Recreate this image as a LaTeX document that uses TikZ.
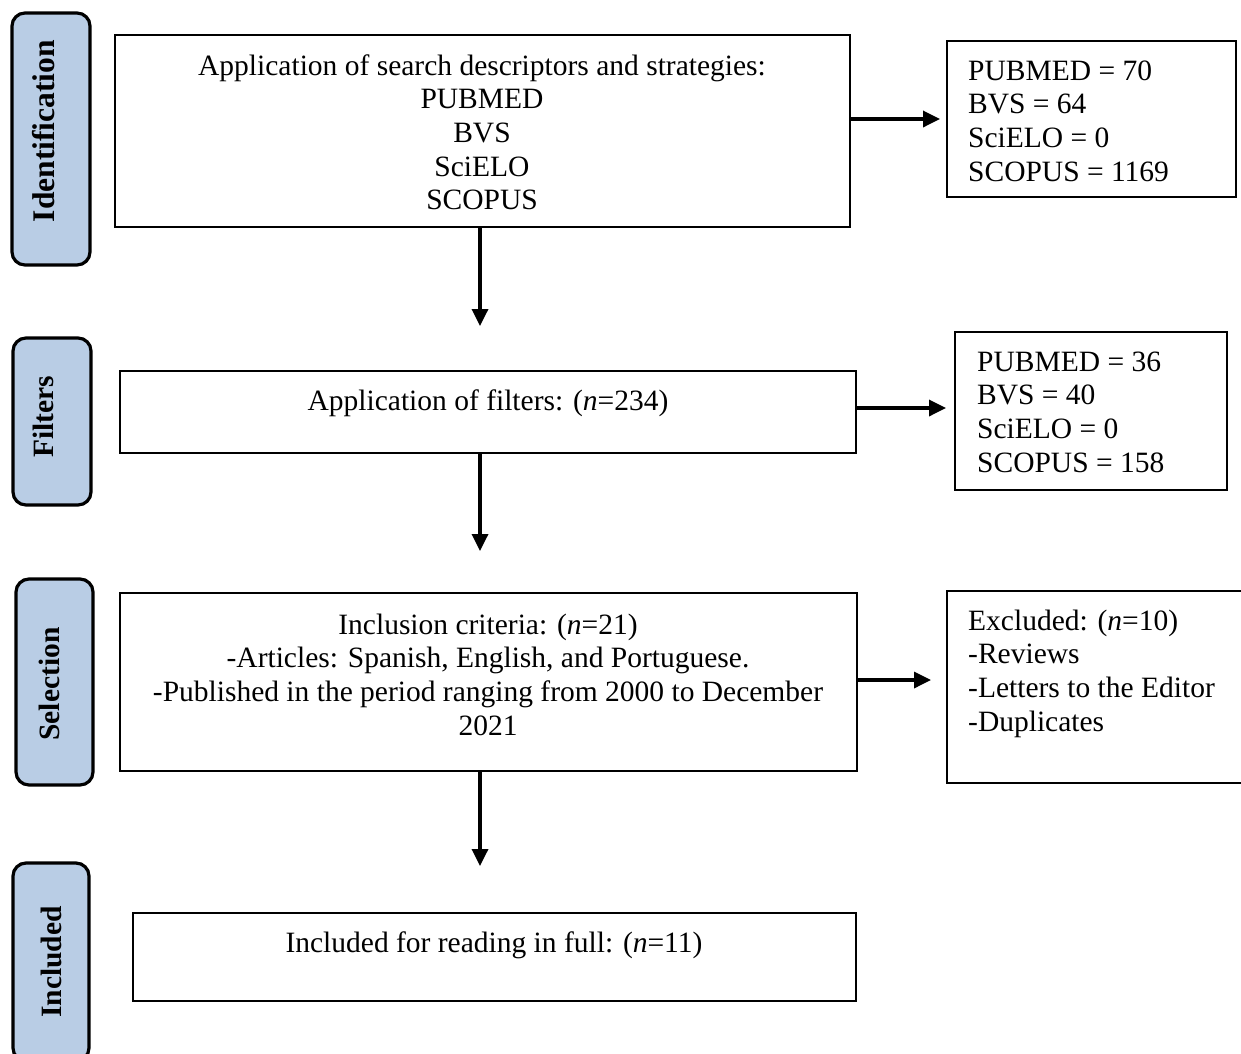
\documentclass[tikz,border=0pt]{standalone}
\usepackage{fontspec}
\setmainfont{Liberation Serif}
\usetikzlibrary{arrows.meta}
\definecolor{lblue}{HTML}{B9CDE5}
\begin{document}
\begin{tikzpicture}[x=1pt,y=-1pt,
  box/.style={draw, line width=2.6pt, inner sep=0pt},
  stage/.style={draw, line width=3.2pt, rounded corners=13pt, fill=lblue, inner sep=0pt},
  stagetext/.style={rotate=90, font=\fontsize{29.5}{33.6}\selectfont\bfseries, inner sep=0pt},
  txt/.style={inner sep=0pt, font=\fontsize{29.5}{33.6}\selectfont},
  arr/.style={line width=3.4pt, -{Triangle[length=17pt,width=16pt]}}
]
\useasboundingbox (0,0) rectangle (1241,1053);
\clip (0,0) rectangle (1241,1053);

% stage labels
\node[stage, minimum width=78pt, minimum height=252pt] (sid) at (51,139) {};
\node[stagetext, font=\fontsize{31.5}{33.6}\selectfont\bfseries] (tid) at (44,131) {Identification};
\node[stage, minimum width=78pt, minimum height=167pt] (sfi) at (52,421.5) {};
\node[stagetext] (tfi) at (43,417) {Filters};
\node[stage, minimum width=77pt, minimum height=206pt] (sse) at (54.5,682) {};
\node[stagetext] (tse) at (49,684) {Selection};
\node[stage, minimum width=76pt, minimum height=198pt] (sin) at (51,962) {};
\node[stagetext] (tin) at (51,962) {Included};

% main boxes
\node[box, minimum width=735pt, minimum height=192pt] (b1) at (482.5,131) {};
\node[box, minimum width=736pt, minimum height=82pt] (b2) at (488,412) {};
\node[box, minimum width=737pt, minimum height=178pt] (b3) at (488.5,682) {};
\node[box, minimum width=723pt, minimum height=88pt] (b4) at (494.5,957) {};

% right boxes
\node[box, minimum width=289pt, minimum height=156pt] (r1) at (1091.5,119) {};
\node[box, minimum width=272pt, minimum height=158pt] (r2) at (1091,411) {};
\node[box, minimum width=313pt, minimum height=192pt] (r3) at (1103.5,687) {};

% texts
\node[txt, align=center, anchor=north] (x1) at (482,51.5) {\strut Application of search descriptors and strategies:\\PUBMED\\BVS\\SciELO\\SCOPUS};
\node[txt, align=center, anchor=north] (x2) at (488,386.5) {\strut Application of filters: (\textit{n}=234)};
\node[txt, align=center, anchor=north] (x3) at (488,610.5) {\strut Inclusion criteria: (\textit{n}=21)\\-Articles: Spanish, English, and Portuguese.\\-Published in the period ranging from 2000 to December\\2021};
\node[txt, align=center, anchor=north] (x4) at (494,928.5) {\strut Included for reading in full: (\textit{n}=11)};
\node[txt, align=left, anchor=north west] (y1) at (968,56.5) {\strut PUBMED = 70\\BVS = 64\\SciELO = 0\\SCOPUS = 1169};
\node[txt, align=left, anchor=north west] (y2) at (977,347.5) {\strut PUBMED = 36\\BVS = 40\\SciELO = 0\\SCOPUS = 158};
\node[txt, align=left, anchor=north west] (y3) at (968,606.5) {\strut Excluded: (\textit{n}=10)\\-Reviews\\-Letters to the Editor\\-Duplicates};

% arrow end points
\coordinate (t1) at (940,119);
\coordinate (t2) at (946,408);
\coordinate (t3) at (931,680);
\coordinate (d1) at (480,326);
\coordinate (d2) at (480,551);
\coordinate (d3) at (480,866);

% connectors
\draw[arr] (b1.east |- t1) -- (t1);
\draw[arr] (b2.east |- t2) -- (t2);
\draw[arr] (b3.east |- t3) -- (t3);
\draw[arr] (b1.south -| d1) -- (d1);
\draw[arr] (b2.south -| d2) -- (d2);
\draw[arr] (b3.south -| d3) -- (d3);
\end{tikzpicture}
\end{document}
